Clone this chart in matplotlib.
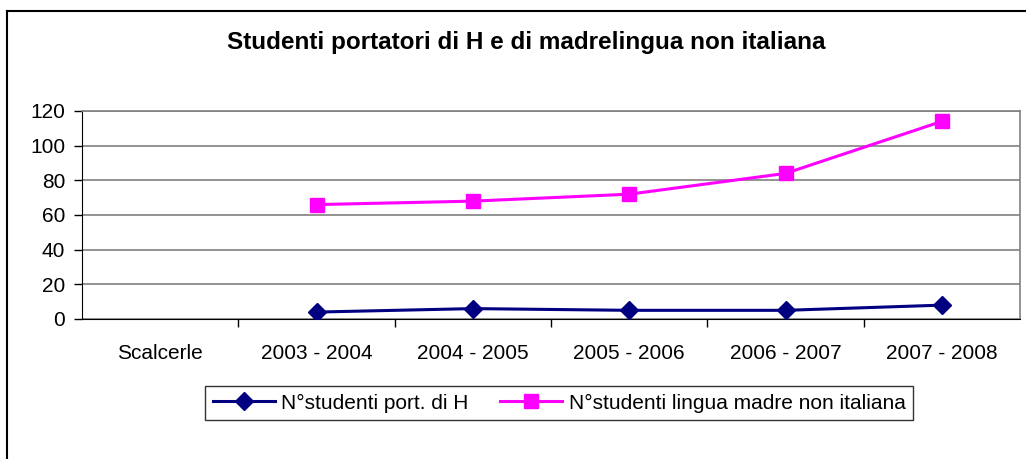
import matplotlib
matplotlib.use("Agg")
import matplotlib.pyplot as plt
from matplotlib.lines import Line2D

categories = ["Scalcerle", "2003 - 2004", "2004 - 2005", "2005 - 2006", "2006 - 2007", "2007 - 2008"]
studenti_h = [None, 4, 6, 5, 5, 8]
studenti_lingua = [None, 66, 68, 72, 84, 114]
y_ticks = [0, 20, 40, 60, 80, 100, 120]

plt.rcParams["font.family"] = ["Liberation Sans", "DejaVu Sans"]

fig = plt.figure(figsize=(10.26, 4.59), dpi=100)
ax = fig.add_axes([82 / 1026, 1 - 319 / 459, (1020 - 82) / 1026, (319 - 111) / 459])

x = list(range(len(categories)))
xs_h = [i for i, v in zip(x, studenti_h) if v is not None]
vs_h = [v for v in studenti_h if v is not None]
xs_l = [i for i, v in zip(x, studenti_lingua) if v is not None]
vs_l = [v for v in studenti_lingua if v is not None]

ax.plot(xs_h, vs_h, color="#000080", linewidth=2.2, marker="D", markersize=9,
        label="N°studenti port. di H", zorder=3)
ax.plot(xs_l, vs_l, color="#FF00FF", linewidth=2.2, marker="s", markersize=10,
        label="N°studenti lingua madre non italiana", zorder=3)

ax.set_xlim(-0.5, len(categories) - 0.5)
ax.set_ylim(0, 120)
ax.set_yticks(y_ticks)
ax.set_xticks(x)
ax.set_xticklabels(categories)
ax.set_xticks([i + 0.5 for i in x[:-1]], minor=True)
ax.tick_params(axis="x", which="major", length=0, pad=18, labelsize=15)
ax.tick_params(axis="x", which="minor", length=6, width=1, direction="out")
ax.tick_params(axis="y", length=6, width=1, direction="out", pad=6, labelsize=15)
ax.yaxis.grid(True, color="#808080", linewidth=1.2)
ax.set_axisbelow(True)
for side in ("top", "right"):
    ax.spines[side].set_color("#808080")
    ax.spines[side].set_linewidth(1.2)
ax.spines["left"].set_color("black")
ax.spines["bottom"].set_color("black")

fig.text(526 / 1026, 1 - 42 / 459, "Studenti portatori di H e di madrelingua non italiana",
         ha="center", va="center", fontsize=17.5, fontweight="bold")

leg = fig.legend(loc="center", bbox_to_anchor=(559 / 1026, 1 - 403 / 459), ncol=2,
                 fontsize=15, frameon=True, fancybox=False, edgecolor="black",
                 handlelength=3, handletextpad=0.3, columnspacing=1.5, borderpad=0.35)
leg.get_frame().set_linewidth(1)

fig.add_artist(Line2D([7 / 1026, 7 / 1026], [0, 1 - 11 / 459], color="black", linewidth=1.5))
fig.add_artist(Line2D([7 / 1026, 1], [1 - 11 / 459, 1 - 11 / 459], color="black", linewidth=1.5))

fig.savefig("out.png", dpi=100)
